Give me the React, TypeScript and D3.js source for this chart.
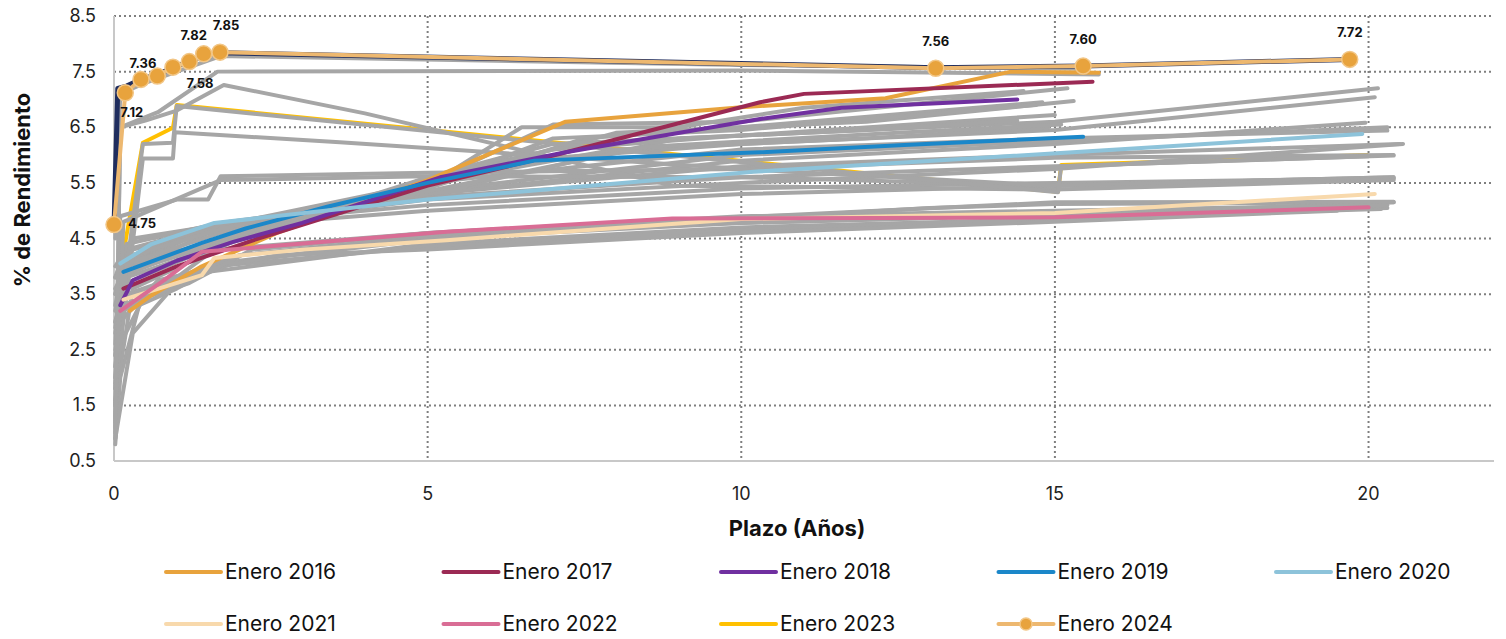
import React, { useEffect } from "react";
import * as d3 from "d3";

type Pt = [number, number];

// Curvas destacadas (plazo en años, rendimiento %)
const enero2016: Pt[] = [[0.25, 3.2], [0.6, 3.48], [1.4, 4.0], [2.6, 4.6], [5, 5.55], [7.2, 6.6], [10, 6.86], [12.3, 7.02], [14.3, 7.5], [15.7, 7.48]];
const enero2017: Pt[] = [[0.15, 3.6], [1, 4.0], [2.3, 4.5], [5, 5.45], [7.1, 6.02], [10.3, 6.95], [11, 7.1], [15.6, 7.32]];
const enero2018: Pt[] = [[0.1, 3.3], [0.3, 3.75], [1, 4.1], [1.9, 4.44], [3, 4.78], [5.2, 5.6], [7.2, 6.05], [10.3, 6.65], [11.6, 6.85], [14.4, 7.0]];
const enero2019: Pt[] = [[0.15, 3.9], [1.4, 4.42], [2.1, 4.68], [3.4, 5.07], [5, 5.5], [6.7, 5.9], [10.3, 6.05], [12.6, 6.18], [15.45, 6.33]];
const enero2020: Pt[] = [[0.1, 4.05], [0.6, 4.4], [1.6, 4.78], [5, 5.2], [10.2, 5.7], [16.7, 6.15], [19.9, 6.38]];
const enero2021: Pt[] = [[0.15, 3.4], [1.4, 3.84], [1.6, 4.15], [3, 4.3], [5.3, 4.47], [10, 4.85], [15, 4.96], [20.1, 5.3]];
const enero2022: Pt[] = [[0.1, 3.2], [0.8, 3.75], [1.4, 4.26], [5.3, 4.62], [8.9, 4.86], [12.2, 4.87], [15, 4.88], [20, 5.06]];
const enero2023: Pt[] = [[0.05, 3.6], [0.46, 6.22], [0.94, 6.49], [1.0, 6.9], [10.3, 5.86], [15.05, 5.34], [15.1, 5.82], [20, 6.0]];
const diciembre: Pt[] = [[0, 4.7], [0.06, 7.2], [0.2, 7.24], [0.45, 7.37], [0.7, 7.45], [0.95, 7.58], [1.2, 7.68], [1.45, 7.8], [1.7, 7.84], [13.1, 7.57], [15.45, 7.6], [19.7, 7.72]];
const enero2024: Pt[] = [[0.0, 4.75], [0.18, 7.12], [0.43, 7.36], [0.69, 7.42], [0.94, 7.58], [1.2, 7.68], [1.43, 7.82], [1.69, 7.85], [13.1, 7.56], [15.45, 7.6], [19.7, 7.72]];
const etiquetas2024: string[] = ["4.75", "7.12", "7.36", "", "7.58", "", "7.82", "7.85", "7.56", "7.60", "7.72"];

// Curvas históricas en gris
const grises: Pt[][] = [
  [[0.02, 0.8], [0.1, 2.0], [0.4, 3.3], [1, 3.6], [1.5, 3.9], [5, 4.4], [10, 4.7], [15, 4.85], [20.3, 5.05]],
  [[0.02, 1.0], [0.1, 2.6], [0.5, 3.5], [1.4, 3.85], [2, 4.1], [5, 4.5], [10, 4.78], [15, 4.92], [20.4, 5.15]],
  [[0.02, 1.5], [0.15, 3.2], [0.6, 3.6], [1.6, 4.0], [5, 4.35], [10, 4.65], [15, 4.86], [20.2, 5.03]],
  [[0.02, 2.2], [0.2, 3.5], [1, 3.8], [2, 4.2], [5, 4.55], [10, 4.85], [13, 5.05], [15, 5.12], [20.4, 5.15]],
  [[0.02, 0.9], [0.3, 2.8], [1, 3.7], [1.7, 4.05], [5, 4.48], [8, 4.72], [12, 4.84], [15.5, 4.95], [20.2, 5.08]],
  [[0.02, 1.2], [0.1, 3.0], [0.7, 3.75], [1.3, 3.9], [2.6, 4.2], [5, 4.3], [10, 4.6], [15, 4.8], [19.5, 5.0]],
  [[0.02, 1.9], [0.12, 3.3], [1.2, 3.7], [2.2, 4.3], [5, 4.6], [10, 4.9], [15, 5.0], [20.3, 5.1]],
  [[0.02, 1.8], [0.15, 3.9], [0.5, 4.3], [1.5, 4.6], [3, 4.9], [5, 5.1], [10, 5.4], [15, 5.5], [20.4, 5.58]],
  [[0.02, 2.6], [0.1, 4.0], [1, 4.5], [2, 4.75], [5, 5.25], [10, 5.6], [15, 5.8], [20.4, 5.99]],
  [[0.02, 3.5], [0.2, 4.3], [1.5, 4.7], [5, 5.2], [10, 5.5], [15, 5.75], [20.55, 6.2]],
  [[0.02, 3.0], [0.3, 4.2], [1.6, 4.7], [5, 5.0], [10, 5.3], [15, 5.45], [20.4, 5.6]],
  [[0.02, 3.8], [0.2, 4.4], [1.7, 4.78], [3.5, 5.05], [5, 5.3], [10, 5.8], [15, 6.0], [20.5, 6.2]],
  [[0.02, 3.5], [0.2, 4.1], [1.7, 4.75], [3.5, 5.0], [5, 5.6], [7, 6.1], [10, 6.35], [15, 6.6], [20.15, 7.2]],
  [[0.02, 3.3], [0.15, 4.0], [1.6, 4.7], [5, 5.45], [7, 5.95], [10, 6.2], [15, 6.45], [20.1, 7.04]],
  [[0.02, 3.8], [0.3, 4.3], [1.8, 4.75], [5, 5.3], [10, 5.9], [15, 6.2], [19.95, 6.58]],
  [[0.02, 2.0], [0.2, 3.9], [1.5, 4.6], [5, 5.35], [10, 6.0], [15, 6.25], [20.3, 6.5]],
  [[0.02, 4.0], [0.3, 4.5], [2, 4.8], [5, 5.5], [10, 6.1], [15, 6.3], [20.3, 6.44]],
  [[0.02, 3.0], [0.2, 3.8], [1.5, 4.3], [5, 5.5], [7, 6.55], [10, 6.6], [15.2, 7.2]],
  [[0.02, 2.5], [0.2, 3.7], [1.7, 4.4], [5, 5.4], [7.5, 6.3], [10, 6.5], [14.8, 6.95]],
  [[0.02, 1.6], [0.3, 3.6], [2, 4.5], [5, 5.5], [8, 6.4], [12, 6.6], [15.3, 6.97]],
  [[0.02, 2.2], [0.2, 3.9], [2.2, 4.6], [5, 5.6], [7, 6.2], [10, 6.35], [15, 6.72]],
  [[0.02, 3.6], [0.3, 4.2], [1.8, 4.7], [5, 5.5], [8, 6.1], [12, 6.3], [14.9, 6.5]],
  [[0.02, 2.8], [0.2, 3.85], [1.5, 4.45], [5, 5.45], [6.5, 6.5], [9, 6.5], [11, 6.85], [14.5, 7.15]],
  [[0.02, 3.2], [0.2, 4.0], [2, 4.6], [5, 5.45], [7, 6.3], [10, 6.45], [14.7, 6.9]],
  [[0.02, 2.4], [0.25, 3.9], [1.9, 4.55], [5, 5.3], [9, 6.3], [12, 6.45], [14.4, 6.62]],
  [[0.02, 2.9], [0.2, 4.05], [1.7, 4.6], [5, 5.35], [8.5, 6.15], [12.5, 6.4], [15.1, 6.55]],
  [[0.02, 1.5], [0.1, 4.9], [1, 5.2], [1.5, 5.2], [1.7, 5.62], [5, 5.68], [10, 5.75], [15, 5.95], [20.4, 6.0]],
  [[0.02, 1.3], [0.15, 4.8], [1.7, 5.55], [5, 5.62], [10, 5.6], [15, 5.45], [20.4, 5.6]],
  [[0.02, 1.8], [0.46, 5.94], [0.94, 5.94], [0.97, 6.41], [3.6, 6.23], [10.3, 5.73], [15, 5.45], [20.4, 5.58]],
  [[0.02, 1.1], [0.1, 6.5], [0.5, 6.62], [1, 6.8], [1.75, 7.26], [4, 6.75], [8.9, 5.45], [15, 5.38], [20.4, 5.55]],
  [[0.02, 2.4], [0.46, 6.2], [0.94, 6.22], [1.0, 6.88], [10.3, 5.84], [15.05, 5.33], [15.1, 5.8], [20, 5.98]],
  [[0.02, 0.9], [0.1, 6.5], [0.7, 6.77], [1.65, 7.5], [10, 7.52], [15.7, 7.45]],
  [[0.02, 4.5], [0.1, 7.1], [0.5, 7.3], [1, 7.5], [1.7, 7.78], [10, 7.62], [15.5, 7.55]],
  [[0.02, 2.0], [0.1, 3.4], [1.0, 3.8], [1.6, 4.3], [5, 4.6], [10, 4.88], [15, 5.15], [20.4, 5.16]],
];

const xTicks = [0, 5, 10, 15, 20];
const yTicks = [0.5, 1.5, 2.5, 3.5, 4.5, 5.5, 6.5, 7.5, 8.5];

const leyenda = [
  { name: "Enero 2016", color: "#E8A33D", data: enero2016 },
  { name: "Enero 2017", color: "#9B2A54", data: enero2017 },
  { name: "Enero 2018", color: "#7030A0", data: enero2018 },
  { name: "Enero 2019", color: "#1B87C9", data: enero2019 },
  { name: "Enero 2020", color: "#8DC3DA", data: enero2020 },
  { name: "Enero 2021", color: "#F8D9AC", data: enero2021 },
  { name: "Enero 2022", color: "#D96D95", data: enero2022 },
  { name: "Enero 2023", color: "#FFC000", data: enero2023 },
  { name: "Enero 2024", color: "#EDB870", data: enero2024 },
];

const W = 1506;
const H = 639;
const FONT = "Inter, 'Open Sans', sans-serif";

// posición de cada etiqueta respecto a su marcador
const labelOffset = (i: number): [number, number, "middle" | "start"] => {
  if (i === 0) return [14, 3, "start"];
  if (i === 1) return [-5, 24, "start"];
  if (i === 2) return [2, -11, "middle"];
  if (i === 4) return [27, 21, "middle"];
  if (i === 6) return [-10, -14, "middle"];
  if (i === 7) return [6, -22, "middle"];
  return [0, -22, "middle"];
};

export default function App() {
  useEffect(() => {
    document.body.style.margin = "0";
  }, []);

  const x = d3.scaleLinear().domain([0, 22]).range([114, 1494]);
  const y = d3.scaleLinear().domain([0.5, 8.5]).range([461, 16]);
  const line = d3
    .line<Pt>()
    .x((d) => x(d[0]))
    .y((d) => y(d[1]));

  const destacados = leyenda.filter((s) => s.name !== "Enero 2023" && s.name !== "Enero 2024");
  const s2023 = leyenda.find((s) => s.name === "Enero 2023")!;
  const s2024 = leyenda.find((s) => s.name === "Enero 2024")!;

  return (
    <svg width={W} height={H} style={{ display: "block", fontFamily: FONT }}>
      <rect width={W} height={H} fill="#fff" />
      {/* grid */}
      {yTicks.filter((t) => t > 0.5).map((t) => (
        <line key={"gy" + t} x1={x(0)} x2={x(22)} y1={y(t)} y2={y(t)} stroke="#7f7f7f" strokeWidth={2} strokeDasharray="2 3" />
      ))}
      {xTicks.filter((t) => t > 0).map((t) => (
        <line key={"gx" + t} x1={x(t)} x2={x(t)} y1={y(8.5)} y2={y(0.5)} stroke="#7f7f7f" strokeWidth={2} strokeDasharray="2 3" />
      ))}
      <line x1={x(0)} x2={x(0)} y1={y(8.5)} y2={y(0.5)} stroke="#c8c8c8" strokeWidth={2} />
      <line x1={x(0)} x2={x(22)} y1={y(0.5)} y2={y(0.5)} stroke="#c8c8c8" strokeWidth={2} />

      {/* tick labels */}
      {yTicks.map((t) => (
        <text key={"ty" + t} x={96} y={y(t) + 6} textAnchor="end" fontSize={18} fill="#222">
          {t.toFixed(1)}
        </text>
      ))}
      {xTicks.map((t) => (
        <text key={"tx" + t} x={x(t)} y={500} textAnchor="middle" fontSize={18} fill="#222">
          {t}
        </text>
      ))}
      <text x={797} y={536} textAnchor="middle" fontSize={22} fontWeight={700} fill="#111">
        Plazo (Años)
      </text>
      <text transform="translate(30,190) rotate(-90)" textAnchor="middle" fontSize={22} fontWeight={700} fill="#111">
        % de Rendimiento
      </text>

      {/* series */}
      <path d={line(s2023.data) ?? ""} fill="none" stroke={s2023.color} strokeWidth={4} strokeLinejoin="round" />
      {grises.map((g, i) => (
        <path key={"g" + i} d={line(g) ?? ""} fill="none" stroke="#A6A6A6" strokeWidth={4} strokeLinejoin="round" strokeLinecap="round" />
      ))}
      {destacados.map((s) => (
        <path key={s.name} d={line(s.data) ?? ""} fill="none" stroke={s.color} strokeWidth={4} strokeLinejoin="round" strokeLinecap="round" />
      ))}
      <path d={line(diciembre) ?? ""} fill="none" stroke="#1F2D5E" strokeWidth={5} strokeLinejoin="round" />
      <path d={line(s2024.data) ?? ""} fill="none" stroke={s2024.color} strokeWidth={4} strokeLinejoin="round" />
      {s2024.data.map((d, i) => (
        <circle key={"m" + i} cx={x(d[0])} cy={y(d[1])} r={8} fill="#E8A33D" stroke="#F2C686" strokeWidth={1.5} />
      ))}
      {s2024.data.map((d, i) => {
        const lab = etiquetas2024[i];
        if (!lab) return null;
        const [dx, dy, anchor] = labelOffset(i);
        return (
          <text key={"l" + i} x={x(d[0]) + dx} y={y(d[1]) + dy} textAnchor={anchor} fontSize={13} fontWeight={700} fill="#111">
            {lab}
          </text>
        );
      })}

      {/* legend */}
      {leyenda.map((s, i) => {
        const col = i % 5;
        const row = Math.floor(i / 5);
        const lx = 166 + col * 277.5;
        const ly = 572 + row * 52;
        return (
          <g key={"lg" + s.name} transform={`translate(${lx},${ly})`}>
            <line x1={0} x2={55} y1={0} y2={0} stroke={s.color} strokeWidth={4} strokeLinecap="round" />
            {s.name === "Enero 2024" && <circle cx={27.5} cy={0} r={6} fill="#E8A33D" stroke="#F2C686" strokeWidth={1.5} />}
            <text x={59} y={7} fontSize={21} fill="#111">
              {s.name}
            </text>
          </g>
        );
      })}
    </svg>
  );
}
